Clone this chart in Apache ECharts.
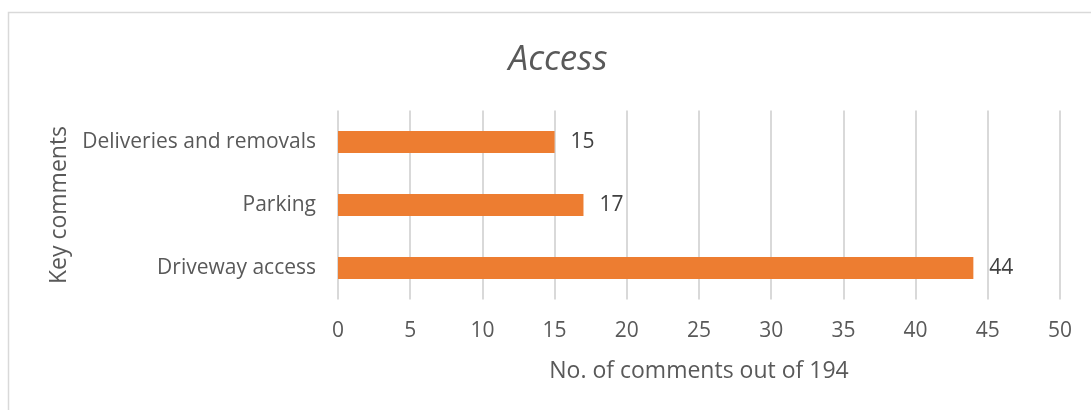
<!DOCTYPE html>
<html>
<head>
<meta charset="utf-8">
<script src="https://cdn.jsdelivr.net/npm/echarts@6/dist/echarts.min.js"></script>
<style>
html,body{margin:0;padding:0;background:#fff;}
#c{width:1091px;height:410px;}
</style>
</head>
<body>
<div id="c"></div>
<script>
const categories = ["Driveway access", "Parking", "Deliveries and removals"];
const values = [44, 17, 15];
const xTicks = [0, 5, 10, 15, 20, 25, 30, 35, 40, 45, 50];

const FONT = '"Open Sans", "Noto Sans", sans-serif';
const chart = echarts.init(document.getElementById('c'), null, {renderer: 'canvas'});
chart.setOption({
  animation: false,
  backgroundColor: '#fff',
  graphic: [{
    type: 'rect', z: -1,
    shape: {x: 8.5, y: 12.5, width: 1200, height: 500},
    style: {fill: 'none', stroke: '#d9d9d9', lineWidth: 1.5}
  }],
  title: {
    text: 'Access',
    left: 553, top: 38, textAlign: 'center',
    textStyle: {fontFamily: FONT, fontStyle: 'italic', fontWeight: 'normal', fontSize: 35, color: '#595959'}
  },
  grid: {left: 338, right: 31, top: 110.5, bottom: 110.5, containLabel: false},
  xAxis: {
    type: 'value', min: xTicks[0], max: xTicks[xTicks.length - 1], interval: 5,
    name: 'No. of comments out of 194', nameLocation: 'middle', nameGap: 60,
    nameTextStyle: {fontFamily: FONT, fontSize: 23, color: '#595959'},
    axisLine: {show: false}, axisTick: {show: false},
    axisLabel: {fontFamily: FONT, fontSize: 21, color: '#595959', margin: 21},
    splitLine: {lineStyle: {color: '#d9d9d9', width: 2}}
  },
  yAxis: {
    type: 'category', data: categories,
    name: 'Key comments', nameLocation: 'middle', nameGap: 264, nameRotate: 90,
    nameTextStyle: {fontFamily: FONT, fontSize: 23, color: '#595959'},
    axisLine: {show: false}, axisTick: {show: false},
    axisLabel: {fontFamily: FONT, fontSize: 21, color: '#595959', margin: 22},
    splitLine: {show: false}
  },
  series: [{
    type: 'bar', data: values, barWidth: 22,
    itemStyle: {color: '#ed7d31'},
    label: {show: true, position: 'right', distance: 16, fontFamily: FONT, fontSize: 21, color: '#404040'}
  }]
});
</script>
</body>
</html>
